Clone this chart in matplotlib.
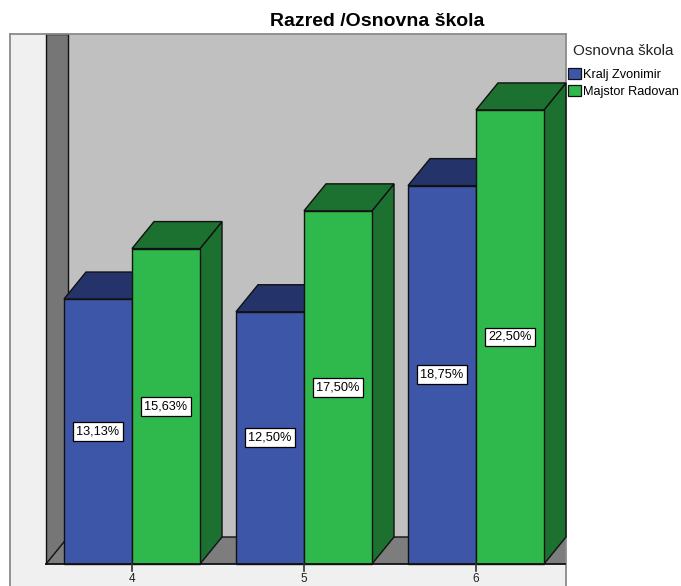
import matplotlib
matplotlib.use("Agg")
import matplotlib.pyplot as plt
from matplotlib.patches import Polygon, Patch

plt.rcParams['font.family'] = ['Liberation Sans', 'DejaVu Sans']

grades = [4, 5, 6]
kralj_zvonimir = [13.13, 12.50, 18.75]
majstor_radovan = [15.63, 17.50, 22.50]
kralj_labels = ["13,13%", "12,50%", "18,75%"]
majstor_labels = ["15,63%", "17,50%", "22,50%"]

BLUE, BLUE_DARK = "#3d56a8", "#24346b"
GREEN, GREEN_DARK = "#2fb84b", "#1c7030"
EDGE = "#111111"

W, H = 681, 586
fig = plt.figure(figsize=(W / 100, H / 100), dpi=100)

# plot frame in pixels
left, right, top, bottom = 10, 566, 34, 586
ax = fig.add_axes([left / W, 1 - bottom / H, (right - left) / W, (bottom - top) / H])

px_x = 172.0   # pixels per category
px_y = 20.18   # pixels per percent
ax.set_xlim(4 + (left - 132) / px_x, 4 + (right - 132) / px_x)
ax.set_ylim((564 - bottom) / px_y, (564 - top) / px_y)

bar_w = 68 / px_x
dx = 22 / px_x
dy = 27 / px_y
x0, x1 = ax.get_xlim()
y0, y1 = ax.get_ylim()
wall_l = 4 + (46 - 132) / px_x


def poly(pts, color, z, edge=EDGE, lw=1.0):
    ax.add_patch(Polygon(pts, closed=True, facecolor=color, edgecolor=edge, linewidth=lw, zorder=z, clip_on=False))


ax.set_facecolor("#f0f0f0")
# back wall, side wall, floor
poly([(wall_l + dx, dy), (wall_l + dx, y1), (x1, y1), (x1, dy)], "#c0c0c0", 1, edge="none")
poly([(wall_l, 0), (wall_l, y1), (wall_l + dx, y1), (wall_l + dx, dy)], "#767676", 2)
poly([(wall_l, 0), (wall_l + dx, dy), (x1, dy), (x1, 0)], "#7d7d7d", 2, edge="none")
ax.plot([wall_l, wall_l + dx, x1], [0, dy, dy], color=EDGE, linewidth=1.0, zorder=3)


def draw_bar(x, val, front, dark, label, z):
    # x is the left edge of the front face
    poly([(x + bar_w, 0), (x + bar_w + dx, dy), (x + bar_w + dx, val + dy), (x + bar_w, val)], dark, z)
    poly([(x, val), (x + dx, val + dy), (x + bar_w + dx, val + dy), (x + bar_w, val)], dark, z)
    ax.bar(x, val, width=bar_w, align="edge", color=front, edgecolor=EDGE, linewidth=1.0, zorder=z + 1)
    ax.text(x + bar_w / 2, val / 2, label, ha="center", va="center", fontsize=9.2, color="black", zorder=20,
            bbox=dict(boxstyle="square,pad=0.27", facecolor="white", edgecolor="black", linewidth=0.9))


for i, g in enumerate(grades):
    draw_bar(g - bar_w, kralj_zvonimir[i], BLUE, BLUE_DARK, kralj_labels[i], 5 + i * 4)
    draw_bar(g, majstor_radovan[i], GREEN, GREEN_DARK, majstor_labels[i], 7 + i * 4)

ax.plot([wall_l, x1 - 1 / px_x], [0, 0], color=EDGE, linewidth=1.3, zorder=19)

ax.set_xticks([])
ax.set_yticks([])
for g in grades:
    ax.plot([g, g], [0, -7 / px_y], color="#333333", linewidth=1.2, zorder=19)
    ax.text(g, -15 / px_y, str(g), ha="center", va="center", fontsize=8.5, color="#222222", zorder=19)

for name, sp in ax.spines.items():
    sp.set_color("#8a8a8a")
    sp.set_linewidth(1.3)
ax.spines["bottom"].set_visible(False)

fig.text(377.5 / W, 1 - 22 / H, "Razred /Osnovna škola", ha="center", va="center", fontsize=14, fontweight="bold")
fig.text(573 / W, 1 - 51 / H, "Osnovna škola", ha="left", va="center", fontsize=11, color="#222222")

handles = [Patch(facecolor=BLUE, edgecolor=EDGE, linewidth=0.9), Patch(facecolor=GREEN, edgecolor=EDGE, linewidth=0.9)]
leg = fig.legend(handles, ["Kralj Zvonimir", "Majstor Radovan"],
                 loc="upper left", bbox_to_anchor=(568 / W, 1 - 68 / H), frameon=False,
                 fontsize=9.2, handlelength=1.0, handleheight=1.0,
                 handletextpad=0.2, labelspacing=0.27, borderpad=0, borderaxespad=0)

fig.savefig("out.png", dpi=100)
